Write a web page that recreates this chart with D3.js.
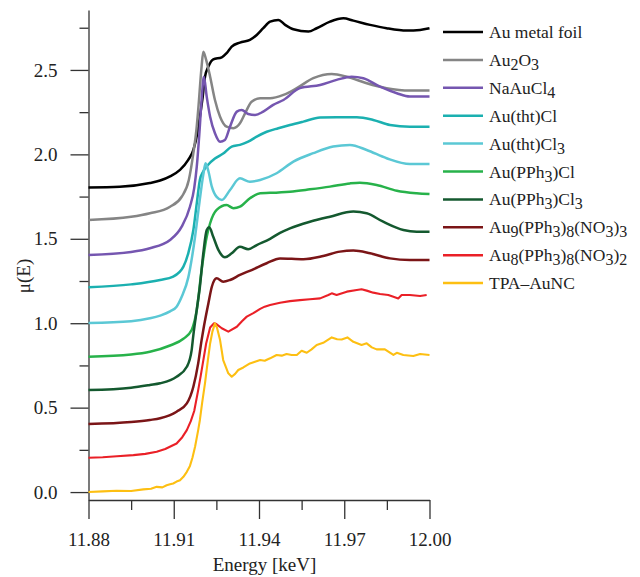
<!DOCTYPE html>
<html>
<head>
<meta charset="utf-8">
<script src="https://cdn.jsdelivr.net/npm/d3@7"></script>
<style>
  body { margin: 0; background: #fff; }
  text { font-family: "Liberation Serif", "Times New Roman", serif; fill: #222; }
</style>
</head>
<body>
<svg id="chart" width="640" height="577"></svg>
<script>
// Energy (keV) and normalised absorption mu(E)
var eFoil = [11.8800, 11.8910, 11.9016, 11.9052, 11.9087, 11.9122, 11.9151, 11.9169, 11.9183, 11.9192, 11.9202, 11.9210, 11.9222, 11.9239, 11.9269, 11.9286, 11.9304, 11.9333, 11.9368, 11.9392, 11.9415, 11.9439, 11.9468, 11.9492, 11.9521, 11.9574, 11.9603, 11.9650, 11.9697, 11.9732, 11.9791, 11.9849, 11.9920, 11.9967, 12.0000];
var muFoil = [1.804, 1.808, 1.830, 1.845, 1.870, 1.908, 1.967, 2.026, 2.125, 2.223, 2.342, 2.460, 2.520, 2.563, 2.575, 2.599, 2.638, 2.662, 2.678, 2.707, 2.747, 2.786, 2.796, 2.767, 2.741, 2.727, 2.747, 2.786, 2.806, 2.792, 2.767, 2.747, 2.733, 2.737, 2.747];

var eAu2O3 = [11.8800, 11.8950, 11.9016, 11.9087, 11.9128, 11.9153, 11.9169, 11.9180, 11.9186, 11.9198, 11.9204, 11.9214, 11.9228, 11.9245, 11.9263, 11.9286, 11.9310, 11.9333, 11.9351, 11.9374, 11.9404, 11.9439, 11.9486, 11.9533, 11.9591, 11.9656, 11.9709, 11.9779, 11.9849, 11.9931, 12.0000];
var muAu2O3 = [1.611, 1.630, 1.651, 1.690, 1.749, 1.848, 2.007, 2.150, 2.263, 2.520, 2.608, 2.560, 2.460, 2.322, 2.223, 2.164, 2.155, 2.184, 2.243, 2.312, 2.332, 2.332, 2.352, 2.392, 2.451, 2.476, 2.460, 2.421, 2.392, 2.378, 2.378];

var eNaAuCl4 = [11.8800, 11.8950, 11.9016, 11.9087, 11.9128, 11.9157, 11.9172, 11.9181, 11.9190, 11.9198, 11.9206, 11.9216, 11.9228, 11.9245, 11.9263, 11.9280, 11.9298, 11.9322, 11.9339, 11.9362, 11.9386, 11.9415, 11.9450, 11.9486, 11.9544, 11.9615, 11.9673, 11.9726, 11.9767, 11.9826, 11.9885, 11.9931, 12.0000];
var muNaAuCl4 = [1.404, 1.422, 1.444, 1.493, 1.572, 1.690, 1.800, 1.927, 2.120, 2.322, 2.460, 2.342, 2.223, 2.125, 2.075, 2.085, 2.164, 2.253, 2.263, 2.239, 2.233, 2.253, 2.293, 2.322, 2.392, 2.411, 2.441, 2.460, 2.451, 2.401, 2.362, 2.342, 2.342];

var eThtCl = [11.8800, 11.8950, 11.9052, 11.9098, 11.9134, 11.9151, 11.9169, 11.9181, 11.9192, 11.9204, 11.9222, 11.9245, 11.9274, 11.9304, 11.9333, 11.9362, 11.9392, 11.9427, 11.9468, 11.9509, 11.9556, 11.9615, 11.9673, 11.9744, 11.9802, 11.9861, 11.9931, 12.0000];
var muThtCl = [1.213, 1.230, 1.256, 1.276, 1.335, 1.414, 1.552, 1.710, 1.850, 1.900, 1.940, 1.975, 2.005, 2.046, 2.056, 2.075, 2.105, 2.134, 2.155, 2.174, 2.194, 2.218, 2.220, 2.220, 2.204, 2.174, 2.164, 2.164];

var eThtCl3 = [11.8800, 11.8950, 11.9016, 11.9052, 11.9087, 11.9110, 11.9128, 11.9151, 11.9157, 11.9175, 11.9190, 11.9204, 11.9212, 11.9222, 11.9234, 11.9251, 11.9269, 11.9298, 11.9333, 11.9368, 11.9404, 11.9462, 11.9521, 11.9591, 11.9661, 11.9720, 11.9779, 11.9849, 11.9931, 12.0000];
var muThtCl3 = [1.001, 1.012, 1.029, 1.045, 1.070, 1.098, 1.157, 1.270, 1.320, 1.512, 1.710, 1.880, 1.947, 1.900, 1.809, 1.748, 1.730, 1.789, 1.858, 1.838, 1.848, 1.888, 1.957, 2.007, 2.046, 2.056, 2.026, 1.977, 1.943, 1.943];

var ePPh3Cl = [11.8800, 11.8950, 11.9016, 11.9087, 11.9134, 11.9163, 11.9181, 11.9198, 11.9216, 11.9228, 11.9251, 11.9286, 11.9310, 11.9333, 11.9368, 11.9404, 11.9439, 11.9509, 11.9579, 11.9650, 11.9720, 11.9755, 11.9814, 11.9885, 11.9955, 12.0000];
var muPPh3Cl = [0.802, 0.815, 0.831, 0.868, 0.908, 0.960, 1.078, 1.315, 1.512, 1.592, 1.671, 1.700, 1.681, 1.690, 1.740, 1.770, 1.772, 1.779, 1.793, 1.809, 1.828, 1.832, 1.819, 1.785, 1.770, 1.765];

var ePPh3Cl3 = [11.8800, 11.8950, 11.9016, 11.9052, 11.9110, 11.9146, 11.9163, 11.9169, 11.9181, 11.9192, 11.9204, 11.9216, 11.9225, 11.9239, 11.9257, 11.9280, 11.9304, 11.9333, 11.9362, 11.9392, 11.9439, 11.9474, 11.9509, 11.9579, 11.9650, 11.9732, 11.9779, 11.9837, 11.9908, 11.9955, 12.0000];
var muPPh3Cl3 = [0.604, 0.618, 0.634, 0.644, 0.683, 0.742, 0.841, 0.930, 1.080, 1.216, 1.414, 1.552, 1.568, 1.512, 1.434, 1.390, 1.414, 1.453, 1.438, 1.463, 1.500, 1.535, 1.562, 1.601, 1.631, 1.661, 1.651, 1.601, 1.552, 1.542, 1.542];

var eAu9 = [11.8800, 11.8950, 11.9016, 11.9052, 11.9110, 11.9146, 11.9169, 11.9186, 11.9198, 11.9204, 11.9222, 11.9234, 11.9251, 11.9274, 11.9298, 11.9333, 11.9374, 11.9427, 11.9474, 11.9556, 11.9626, 11.9685, 11.9732, 11.9791, 11.9861, 11.9931, 12.0000];
var muAu9 = [0.403, 0.415, 0.427, 0.437, 0.476, 0.525, 0.624, 0.762, 0.900, 0.960, 1.118, 1.216, 1.266, 1.246, 1.256, 1.286, 1.315, 1.355, 1.384, 1.379, 1.398, 1.424, 1.430, 1.414, 1.384, 1.374, 1.374];

var eAu8 = [11.8800, 11.8850, 11.8900, 11.8958, 11.9000, 11.9040, 11.9070, 11.9110, 11.9130, 11.9146, 11.9160, 11.9172, 11.9186, 11.9195, 11.9204, 11.9214, 11.9228, 11.9242, 11.9250, 11.9269, 11.9292, 11.9322, 11.9340, 11.9357, 11.9380, 11.9404, 11.9420, 11.9439, 11.9474, 11.9509, 11.9544, 11.9579, 11.9615, 11.9644, 11.9656, 11.9673, 11.9709, 11.9744, 11.9761, 11.9779, 11.9802, 11.9826, 11.9855, 11.9873, 11.9890, 11.9902, 11.9931, 11.9967, 11.9990];
var muAu8 = [0.203, 0.206, 0.212, 0.219, 0.226, 0.239, 0.255, 0.288, 0.325, 0.367, 0.420, 0.480, 0.604, 0.690, 0.780, 0.880, 0.975, 1.000, 0.995, 0.970, 0.950, 0.979, 1.012, 1.039, 1.060, 1.085, 1.098, 1.108, 1.121, 1.131, 1.137, 1.142, 1.147, 1.167, 1.177, 1.167, 1.187, 1.197, 1.201, 1.193, 1.181, 1.173, 1.167, 1.157, 1.147, 1.167, 1.167, 1.161, 1.167];

var eTPA = [11.8800, 11.8850, 11.8899, 11.8950, 11.8993, 11.9020, 11.9040, 11.9060, 11.9075, 11.9087, 11.9098, 11.9110, 11.9122, 11.9134, 11.9146, 11.9157, 11.9166, 11.9175, 11.9186, 11.9192, 11.9200, 11.9210, 11.9220, 11.9228, 11.9236, 11.9245, 11.9252, 11.9263, 11.9274, 11.9292, 11.9304, 11.9316, 11.9327, 11.9345, 11.9368, 11.9386, 11.9404, 11.9420, 11.9439, 11.9462, 11.9480, 11.9497, 11.9515, 11.9533, 11.9550, 11.9568, 11.9585, 11.9603, 11.9626, 11.9656, 11.9675, 11.9691, 11.9711, 11.9732, 11.9761, 11.9779, 11.9797, 11.9814, 11.9843, 11.9873, 11.9885, 11.9908, 11.9943, 11.9967, 12.0000];
var muTPA = [0.000, 0.004, 0.008, 0.006, 0.016, 0.020, 0.031, 0.028, 0.040, 0.046, 0.051, 0.062, 0.070, 0.090, 0.120, 0.155, 0.205, 0.268, 0.367, 0.427, 0.530, 0.645, 0.780, 0.880, 0.950, 0.999, 0.975, 0.900, 0.782, 0.703, 0.683, 0.700, 0.723, 0.738, 0.762, 0.772, 0.782, 0.778, 0.792, 0.812, 0.808, 0.818, 0.812, 0.812, 0.837, 0.825, 0.845, 0.871, 0.884, 0.916, 0.905, 0.904, 0.916, 0.890, 0.871, 0.881, 0.857, 0.845, 0.845, 0.812, 0.825, 0.812, 0.806, 0.818, 0.812];

// Legend labels ("_n" marks a subscript digit)
var labels = ["Au metal foil", "Au_2O_3", "NaAuCl_4", "Au(tht)Cl", "Au(tht)Cl_3", "Au(PPh_3)Cl", "Au(PPh_3)Cl_3", "Au_9(PPh_3)_8(NO_3)_3", "Au_8(PPh_3)_8(NO_3)_2", "TPA\u2013AuNC"];
var energies = [eFoil, eAu2O3, eNaAuCl4, eThtCl, eThtCl3, ePPh3Cl, ePPh3Cl3, eAu9, eAu8, eTPA];
var mus = [muFoil, muAu2O3, muNaAuCl4, muThtCl, muThtCl3, muPPh3Cl, muPPh3Cl3, muAu9, muAu8, muTPA];
var noisy = [false, false, false, false, false, false, false, false, true, true];

var colours = ["#000000", "#858585", "#7556b0", "#1bb0b0", "#5bc8d5", "#27b24a", "#14592f", "#7b1517", "#ea2027", "#fdbf12"];

// Tick values
var yMajor = [0, 0.5, 1.0, 1.5, 2.0, 2.5];
var yMinor = [0.25, 0.75, 1.25, 1.75, 2.25, 2.75];
var xMajor = [11.88, 11.91, 11.94, 11.97, 12.00];
var xMinor = [11.895, 11.925, 11.955, 11.985];

var svg = d3.select("#chart");

var x = d3.scaleLinear().domain([11.88, 12.00]).range([88.5, 429.5]);
var y = d3.scaleLinear().domain([-0.047, 2.855]).range([500, 10]);

// Axes
function styleAxis(g) {
  g.selectAll("path, line").attr("stroke", "#333").attr("stroke-width", 1.3);
  g.selectAll("text").style("font-size", "19px").attr("fill", "#222");
}

svg.append("g")
  .attr("transform", "translate(88.5,0)")
  .call(d3.axisLeft(y).tickValues(yMajor).tickSize(18).tickSizeOuter(0).tickPadding(13)
    .tickFormat(d3.format(".1f")))
  .call(styleAxis);

svg.append("g")
  .attr("transform", "translate(88.5,0)")
  .call(d3.axisLeft(y).tickValues(yMinor).tickSize(9).tickFormat(""))
  .call(styleAxis)
  .select(".domain").remove();

svg.append("g")
  .attr("transform", "translate(0,500)")
  .call(d3.axisBottom(x).tickValues(xMajor).tickSize(19).tickSizeOuter(0).tickPadding(14)
    .tickFormat(d3.format(".2f")))
  .call(styleAxis);

svg.append("g")
  .attr("transform", "translate(0,500)")
  .call(d3.axisBottom(x).tickValues(xMinor).tickSize(10).tickFormat(""))
  .call(styleAxis)
  .select(".domain").remove();

svg.append("text")
  .attr("x", 264.5)
  .attr("y", 571)
  .style("text-anchor", "middle")
  .style("font-size", "19px")
  .text("Energy [keV]");

svg.append("text")
  .attr("transform", "translate(30,276) rotate(-90)")
  .style("text-anchor", "middle")
  .style("font-size", "19px")
  .text("\u03bc(E)");

// Spectra
var smooth = d3.line().x(function(d) { return x(d[0]); }).y(function(d) { return y(d[1]); })
  .curve(d3.curveMonotoneX);
var rough = d3.line().x(function(d) { return x(d[0]); }).y(function(d) { return y(d[1]); });

energies.forEach(function(es, i) {
  var pts = es.map(function(e, j) { return [e, mus[i][j]]; });
  svg.append("path")
    .datum(pts)
    .attr("d", noisy[i] ? rough : smooth)
    .attr("fill", "none")
    .attr("stroke", colours[i])
    .attr("stroke-width", noisy[i] ? 2.1 : 2.5)
    .attr("stroke-linejoin", "round");
});

// Legend
var legend = svg.append("g");
labels.forEach(function(lab, i) {
  var ly = 32 + i * 27.9;
  legend.append("line")
    .attr("x1", 443).attr("x2", 483)
    .attr("y1", ly).attr("y2", ly)
    .attr("stroke", colours[i])
    .attr("stroke-width", 2.5);

  var t = legend.append("text")
    .attr("x", 489)
    .attr("y", ly + 6)
    .style("font-size", "17.5px");

  var parts = lab.split(/_(\d)/);
  var shifted = false;
  parts.forEach(function(p, k) {
    if (p === "") return;
    var isSub = k % 2 === 1;
    var span = t.append("tspan").text(p);
    if (isSub) {
      span.style("font-size", "16px").attr("dy", shifted ? 0 : 4);
      shifted = true;
    } else if (shifted) {
      span.attr("dy", -4);
      shifted = false;
    }
  });
});
</script>
</body>
</html>
